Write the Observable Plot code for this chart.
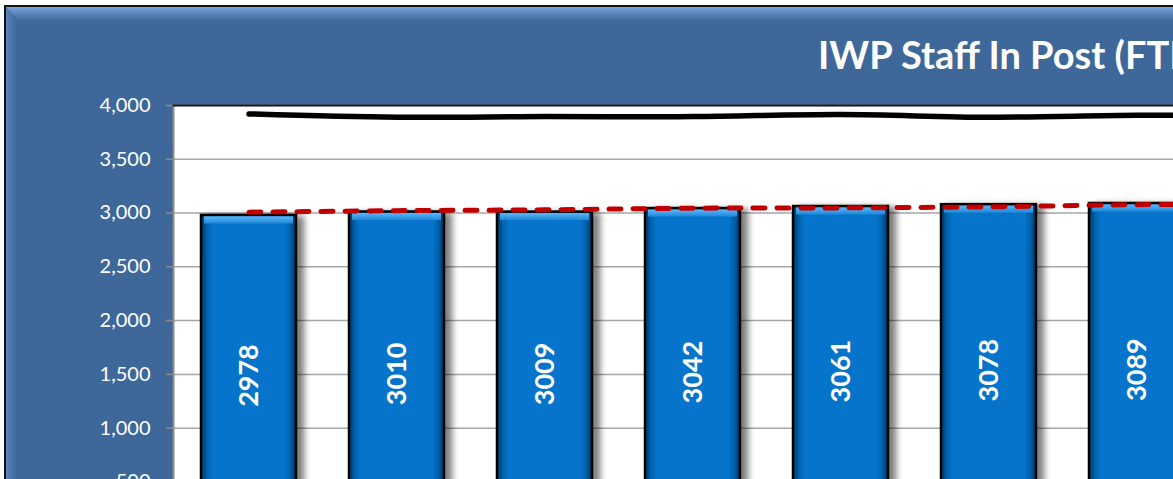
<!DOCTYPE html>
<html>
<head>
<meta charset="utf-8">
<script src="https://cdn.jsdelivr.net/npm/d3@7"></script>
<script src="https://cdn.jsdelivr.net/npm/@observablehq/plot@0.6"></script>
<style>
  html, body { margin: 0; padding: 0; width: 1173px; height: 479px; overflow: hidden; background: #fff; }
  #wrap { position: relative; width: 1173px; height: 479px; overflow: hidden; font-family: Lato, "Open Sans", sans-serif; }
  #panel { position: absolute; left: 6px; top: 7px; width: 1400px; height: 700px; background: #3E6899; box-shadow: 0 0 0 2px #111; overflow: hidden; }
  #bevelTop { position: absolute; left: 0; top: 0; width: 100%; height: 14px;
    background: linear-gradient(to bottom, #7AA6DB 0%, #5F8CC4 35%, #3E6899 100%);
    clip-path: polygon(0 0, 100% 0, 100% 100%, 13px 100%); }
  #bevelLeft { position: absolute; left: 0; top: 0; width: 11px; height: 100%;
    background: linear-gradient(to right, #5A85BB 0%, #3E6899 100%);
    clip-path: polygon(0 0, 100% 13px, 100% 100%, 0 100%); }
  #chart { position: absolute; left: 0; top: 0; }
  #title { position: absolute; left: 818px; top: 35px; color: #fff; font: bold 38px/38px Lato, "Open Sans", sans-serif; white-space: nowrap; }
</style>
</head>
<body>
<div id="wrap">
  <div id="panel"><div id="bevelTop"></div><div id="bevelLeft"></div></div>
  <div id="chart"></div>
  <div id="title">IWP Staff In Post (FTE)</div>
</div>
<script>
// ---- data (the 8th period lies past the right edge; only its lines show) ----
const periods = ["P1", "P2", "P3", "P4", "P5", "P6", "P7", "P8"];
const staffInPost = [2978, 3010, 3009, 3042, 3061, 3078, 3089, null];
const budgetLine = [3922, 3891, 3897, 3897, 3916, 3891, 3909, 3910];
const targetLine = [3008, 3022, 3030, 3045, 3048, 3058, 3078, 3085];
const yTicks = [500, 1000, 1500, 2000, 2500, 3000, 3500, 4000];

const rows = periods.map((p, i) => ({
  period: p, staff: staffInPost[i], budget: budgetLine[i], target: targetLine[i]
}));
const barRows = rows.filter(d => d.staff != null);

const step = 148.3;
const svg = Plot.plot({
  width: 1173,
  height: 479,
  marginTop: 105,
  marginLeft: 173,
  marginRight: 0,
  marginBottom: 0,
  style: { background: "transparent", overflow: "hidden", fontFamily: "Lato, 'Open Sans', sans-serif" },
  x: { type: "band", domain: periods, range: [173, 173 + step * periods.length], paddingInner: 0.36, paddingOuter: 0.18, axis: null },
  y: { domain: [0, 4000], range: [535.2, 105], axis: null },
  marks: [
    Plot.frame({ fill: "white" }),
    Plot.gridY(yTicks, { stroke: "#A6A6A6", strokeOpacity: 1, strokeWidth: 1.5 }),
    Plot.axisY(yTicks, { tickSize: 7, tickPadding: 16, stroke: "#8C8C8C", strokeWidth: 1.5, fill: "#FFFFFF", fontSize: 20, tickFormat: d3.format(","), label: null }),
    Plot.frame({ anchor: "left", stroke: "#8C8C8C", strokeWidth: 2 }),
    Plot.frame({ anchor: "top", stroke: "#1A1A1A", strokeWidth: 2 }),
    Plot.barY(barRows, { x: "period", y: "staff", fill: "url(#barGrad)", stroke: "#000", strokeWidth: 2.5 }),
    Plot.barY(barRows, { x: "period", y1: d => d.staff - 80, y2: "staff", insetLeft: 3, insetRight: 3, insetTop: 1.5, fill: "url(#bevelGrad)" }),
    Plot.text(barRows, { x: "period", y: d => d.staff / 2, text: d => String(d.staff), rotate: -90, fill: "white", fontWeight: "bold", fontSize: 27 }),
    Plot.line(rows, { x: "period", y: "budget", stroke: "#000", strokeWidth: 5.5, curve: "catmull-rom", strokeLinecap: "round" }),
    Plot.line(rows, { x: "period", y: "target", stroke: "#C00000", strokeWidth: 5, curve: "catmull-rom", strokeDasharray: "12,12", strokeLinecap: "round" })
  ]
});

const s = d3.select(svg);
const defs = s.insert("defs", ":first-child");
const g1 = defs.append("linearGradient").attr("id", "barGrad").attr("x1", 0).attr("x2", 1).attr("y1", 0).attr("y2", 0);
g1.append("stop").attr("offset", "0%").attr("stop-color", "#00335E");
g1.append("stop").attr("offset", "6%").attr("stop-color", "#0062AA");
g1.append("stop").attr("offset", "12%").attr("stop-color", "#0574CA");
g1.append("stop").attr("offset", "88%").attr("stop-color", "#0574CA");
g1.append("stop").attr("offset", "94%").attr("stop-color", "#0060A8");
g1.append("stop").attr("offset", "100%").attr("stop-color", "#00335E");
const g2 = defs.append("linearGradient").attr("id", "bevelGrad").attr("x1", 0).attr("x2", 0).attr("y1", 0).attr("y2", 1);
g2.append("stop").attr("offset", "0%").attr("stop-color", "#5DB6F7");
g2.append("stop").attr("offset", "100%").attr("stop-color", "#1C86D8");

s.selectAll("g[aria-label='bar']").filter((d, i, n) => i === 0)
  .style("filter", "drop-shadow(7px 2px 3px rgba(0,0,0,0.5))");

document.getElementById("chart").appendChild(svg);
</script>
</body>
</html>
